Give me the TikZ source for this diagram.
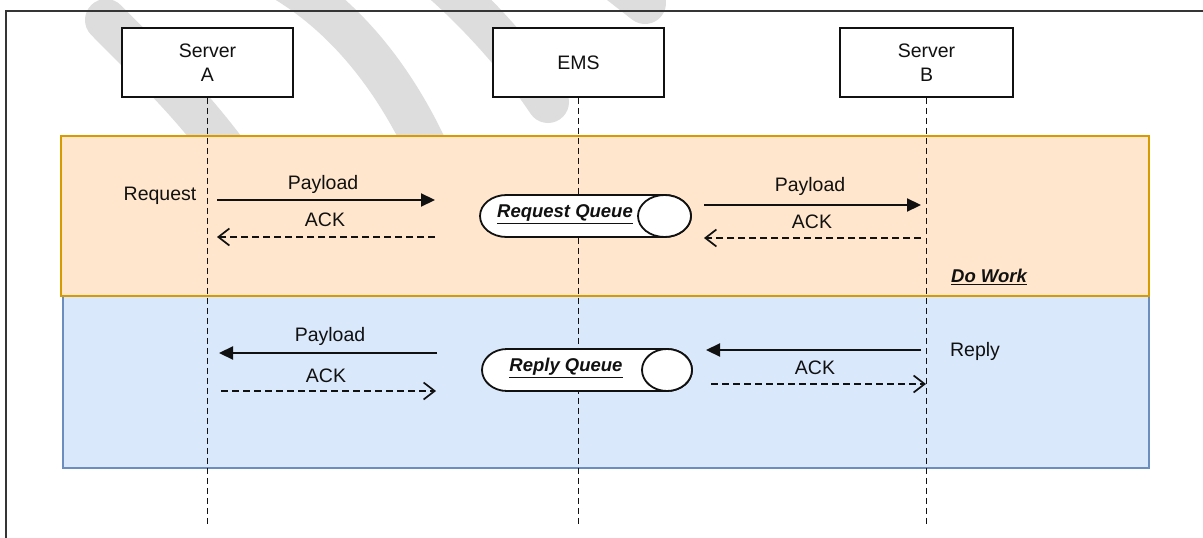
\documentclass[tikz,border=0pt]{standalone}
\usepackage{fontspec}
\setmainfont{Liberation Sans}
\usetikzlibrary{arrows.meta}
\definecolor{orfill}{HTML}{FFE6CC}
\definecolor{ordraw}{HTML}{D79B00}
\definecolor{blfill}{HTML}{DAE8FC}
\definecolor{bldraw}{HTML}{6C8EBF}
\definecolor{wm}{HTML}{DDDDDD}
\definecolor{ink}{HTML}{111111}
\begin{document}
\begin{tikzpicture}[x=1pt,y=-1pt,
  font=\fontsize{19.5}{24}\selectfont,
  actor/.style={draw=ink, line width=1.8pt, fill=white, minimum height=69pt, align=center, inner sep=0pt, text=ink},
  lifeline/.style={draw=ink, line width=1.7pt, dash pattern=on 6pt off 4pt},
  msg/.style={draw=ink, line width=2.2pt, -{Triangle[length=14pt,width=13pt]}},
  ackmsg/.style={draw=ink, line width=1.7pt, dash pattern=on 7pt off 4pt, -{Straight Barb[length=11pt,width=17pt,line width=1.7pt]}},
  lbl/.style={text=ink, inner sep=0pt},
  emph/.style={text=ink, inner sep=0pt, font=\fontsize{18.5}{22}\selectfont\bfseries\itshape},
  queue/.style={draw=ink, line width=1.8pt, fill=white},
  band/.style={draw=wm, line width=42pt, line cap=round},
  phase/.style={line width=1.5pt},
]
\useasboundingbox (0,0) rectangle (1203,538);
\fill[white] (0,0) rectangle (1203,538);

% watermark bands
\draw[band] (106,20) .. controls (150,65) and (190,100) .. (240,170);
\draw[band] (265,-30) .. controls (335,5) and (392,70) .. (432,160);
\draw[band] (440,-20) .. controls (480,15) and (520,60) .. (548,102);
\draw[band] (590,-40) -- (645,3);

% outer frame
\draw[draw=ink!85, line width=2pt] (5.5,10.5) rectangle (1215,550);

% phase boxes
\draw[phase, fill=blfill, draw=bldraw] (63,296) rectangle (1149,468);
\draw[phase, fill=orfill, draw=ordraw] (61,136) rectangle (1149,296);

% actors
\node[actor, minimum width=171pt] (A) at (207.5,62.5) {Server\\A};
\node[actor, minimum width=171pt] (E) at (578.5,62.5) {EMS};
\node[actor, minimum width=173pt] (B) at (926.5,62.5) {Server\\B};

\coordinate (Aend) at (207.5,525);
\coordinate (Eend) at (578.5,525);
\coordinate (Bend) at (926.5,525);
\draw[lifeline] (A.south) -- (Aend);
\draw[lifeline] (E.south) -- (Eend);
\draw[lifeline] (B.south) -- (Bend);

% queues
\path[queue] (664.5,195) -- (506.5,195) arc[start angle=90, end angle=270, x radius=26.5pt, y radius=21pt]
  -- (664.5,237) arc[start angle=-90, end angle=90, x radius=26.5pt, y radius=21pt] -- cycle;
\draw[queue] (664.5,216) ellipse[x radius=26.5pt, y radius=21pt];
\node[emph] (RQ) at (565,214) {\underline{Request Queue}};

\path[queue] (667,349) -- (507,349) arc[start angle=90, end angle=270, x radius=25pt, y radius=21pt]
  -- (667,391) arc[start angle=-90, end angle=90, x radius=25pt, y radius=21pt] -- cycle;
\draw[queue] (667,370) ellipse[x radius=25pt, y radius=21pt];
\node[emph] (PQ) at (566,368) {\underline{Reply Queue}};

% request phase connectors
\coordinate (r1a) at (217,200);
\coordinate (r1b) at (435,200);
\coordinate (r2a) at (435,237);
\coordinate (r2b) at (217,237);
\coordinate (r3a) at (704,205);
\coordinate (r3b) at (921,205);
\coordinate (r4a) at (921,238);
\coordinate (r4b) at (704,238);
\draw[msg] (r1a) -- (r1b);
\draw[ackmsg] (r2a) -- (r2b);
\draw[msg] (r3a) -- (r3b);
\draw[ackmsg] (r4a) -- (r4b);

% reply phase connectors
\coordinate (p1a) at (437,353);
\coordinate (p1b) at (219,353);
\coordinate (p2a) at (221,391);
\coordinate (p2b) at (436,391);
\coordinate (p3a) at (921,350);
\coordinate (p3b) at (706,350);
\coordinate (p4a) at (711,384);
\coordinate (p4b) at (926,384);
\draw[msg] (p1a) -- (p1b);
\draw[ackmsg] (p2a) -- (p2b);
\draw[msg] (p3a) -- (p3b);
\draw[ackmsg] (p4a) -- (p4b);

% labels
\node[lbl] (reqtxt) at (160,196) {Request};
\node[lbl] (l1) at (323,184) {Payload};
\node[lbl] (l2) at (325,220) {ACK};
\node[lbl] (l3) at (810,186) {Payload};
\node[lbl] (l4) at (812,222) {ACK};
\node[emph] (dowork) at (989,277) {\underline{Do Work}};
\node[lbl] (l5) at (330,336) {Payload};
\node[lbl] (l6) at (326,376) {ACK};
\node[lbl] (l7) at (815,368) {ACK};
\node[lbl] (reptxt) at (975,351) {Reply};
\end{tikzpicture}
\end{document}
